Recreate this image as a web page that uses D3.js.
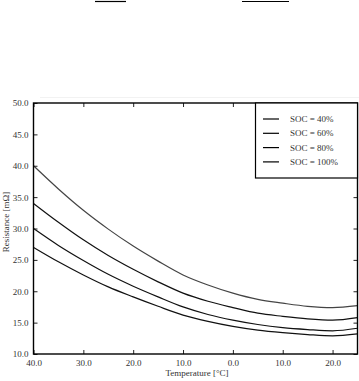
<!DOCTYPE html>
<html><head><meta charset="utf-8">
<script src="https://cdn.jsdelivr.net/npm/d3@7"></script>
<style>body{margin:0;background:#fff}svg{display:block}</style>
</head><body>
<script>
const temps = [-40,-35,-30,-25,-20,-15,-10,-5,0,5,10,15,20,25];
const soc40 = [40.0,36.3,32.9,29.9,27.2,24.8,22.6,21.0,19.7,18.7,18.1,17.6,17.4,17.7];
const soc60 = [34.0,31.0,28.2,25.7,23.5,21.5,19.7,18.4,17.4,16.5,16.0,15.6,15.4,15.8];
const soc80 = [30.0,27.3,24.9,22.7,20.8,19.1,17.5,16.3,15.4,14.7,14.2,13.9,13.7,14.1];
const soc100 = [27.0,24.7,22.6,20.7,19.1,17.6,16.2,15.2,14.4,13.8,13.4,13.1,12.9,13.2];
const seriesNames = ["SOC = 40%","SOC = 60%","SOC = 80%","SOC = 100%"];
const xTicks = [-40,-30,-20,-10,0,10,20];
const xTickLabels = ["40.0","30.0","20.0","10.0","0.0","10.0","20.0"];
const yTicks = [10,15,20,25,30,35,40,45,50];
const yTickLabels = ["10.0","15.0","20.0","25.0","30.0","35.0","40.0","45.0","50.0"];
const xTitle = "Temperature [°C]";
const yTitle = "Resistance [mΩ]";

const W=359,H=381;
const L=33.5,R=357.5,T=103,B=354;
const svg=d3.select("body").append("svg").attr("width",W).attr("height",H);
const x=d3.scaleLinear().domain([-40,25]).range([L,R]);
const y=d3.scaleLinear().domain([10,50]).range([B,T]);
const font="'Liberation Serif','DejaVu Serif',serif";

// scan artifacts at top
svg.append("line").attr("x1",95).attr("x2",126).attr("y1",1.5).attr("y2",1.5).attr("stroke","#000").attr("stroke-width",1.2);
svg.append("line").attr("x1",242).attr("x2",289).attr("y1",1.5).attr("y2",1.5).attr("stroke","#000").attr("stroke-width",1.2);
svg.append("line").attr("x1",40).attr("x2",359).attr("y1",97.5).attr("y2",97.5).attr("stroke","#f2f2f2").attr("stroke-width",1);

const series=[soc40,soc60,soc80,soc100];
const colors=["#444","#111","#111","#111"];
const line=d3.line().x((d,i)=>x(temps[i])).y(d=>y(d)).curve(d3.curveMonotoneX);
series.forEach((s,k)=>{
  svg.append("path").datum(s).attr("d",line).attr("fill","none").attr("stroke",colors[k]).attr("stroke-width",1.2);
});

// axes with inward ticks
const tl=4;
const gB=svg.append("g").attr("transform",`translate(0,${B})`).call(d3.axisBottom(x).tickValues(xTicks).tickSizeInner(-tl).tickSizeOuter(0).tickPadding(6).tickFormat((d,i)=>xTickLabels[i]));
const gL=svg.append("g").attr("transform",`translate(${L},0)`).call(d3.axisLeft(y).tickValues(yTicks).tickSizeInner(-tl).tickSizeOuter(0).tickPadding(5).tickFormat((d,i)=>yTickLabels[i]));
const gT=svg.append("g").attr("transform",`translate(0,${T})`).call(d3.axisTop(x).tickValues(xTicks).tickSizeInner(-tl).tickSizeOuter(0).tickFormat(""));
const gR=svg.append("g").attr("transform",`translate(${R},0)`).call(d3.axisRight(y).tickValues(yTicks).tickSizeInner(-tl).tickSizeOuter(0).tickFormat(""));
[gB,gL,gT,gR].forEach(g=>{
  g.select(".domain").remove();
  g.selectAll(".tick line").attr("stroke","#222").attr("stroke-width",1);
  g.selectAll("text").attr("font-family",font).attr("font-size",9).attr("fill","#333");
});
svg.append("rect").attr("x",L).attr("y",T).attr("width",R-L).attr("height",B-T).attr("fill","none").attr("stroke","#000").attr("stroke-width",1.4);

// titles
svg.append("text").attr("x",197).attr("y",376).attr("text-anchor","middle").attr("font-family",font).attr("font-size",9).attr("fill","#333").text(xTitle);
svg.append("text").attr("transform","translate(9,222) rotate(-90)").attr("text-anchor","middle").attr("font-family",font).attr("font-size",9).attr("fill","#333").text(yTitle);

// legend
const lg=svg.append("g");
lg.append("rect").attr("x",255.5).attr("y",T).attr("width",R-255.5).attr("height",75).attr("fill","#fff").attr("stroke","#000").attr("stroke-width",1.2);
seriesNames.forEach((n,i)=>{
  const yy=119+i*14.3;
  lg.append("line").attr("x1",263).attr("x2",279).attr("y1",yy).attr("y2",yy).attr("stroke","#000").attr("stroke-width",1.2);
  lg.append("text").attr("x",290).attr("y",yy+3).attr("font-family",font).attr("font-size",9).attr("fill","#333").text(n);
});
</script>
</body></html>
